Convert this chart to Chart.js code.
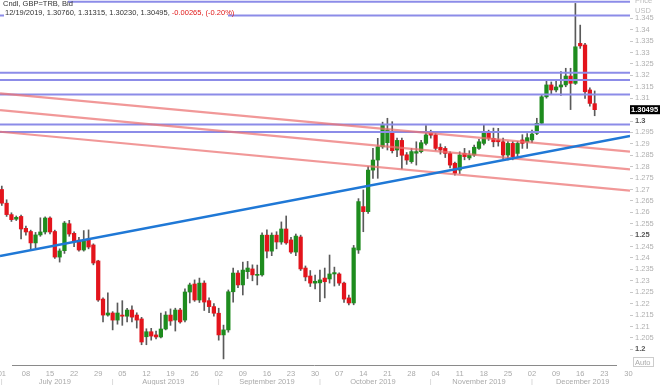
<!DOCTYPE html>
<html><head><meta charset="utf-8">
<script src="https://cdn.jsdelivr.net/npm/chart.js@4/dist/chart.umd.min.js"></script>
<style>html,body{margin:0;padding:0;background:#fff;overflow:hidden}canvas{display:block}</style>
</head><body>
<canvas id="c" width="660" height="385"></canvas>
<script>
// Daily GBP=TRB bid candles, trading-day index 0 = 01 Jul 2019 ... 123 = 19 Dec 2019
const OPEN = [1.2700,1.2640,1.2590,1.2570,1.2582,1.2530,1.2516,1.2466,1.2501,1.2514,
1.2575,1.2516,1.2404,1.2432,1.2550,1.2508,1.2478,1.2435,1.2483,1.2457,
1.2387,1.2220,1.2150,1.2159,1.2128,1.2150,1.2145,1.2172,1.2150,1.2133,
1.2055,1.2077,1.2063,1.2054,1.2089,1.2150,1.2128,1.2172,1.2128,1.2251,
1.2286,1.2216,1.2290,1.2213,1.2187,1.2158,1.2063,1.2085,1.2252,1.2334,
1.2282,1.2340,1.2352,1.2324,1.2326,1.2500,1.2430,1.2500,1.2470,1.2527,
1.2479,1.2426,1.2492,1.2356,1.2321,1.2290,1.2291,1.2312,1.2308,1.2330,
1.2330,1.2290,1.2225,1.2203,1.2435,1.2625,1.2603,1.2785,1.2829,1.2887,
1.2905,1.2950,1.2873,1.2915,1.2852,1.2822,1.2859,1.2866,1.2902,1.2948,
1.2939,1.2885,1.2880,1.2858,1.2815,1.2785,1.2858,1.2838,1.2851,1.2880,
1.2902,1.2946,1.2924,1.2917,1.2909,1.2851,1.2902,1.2858,1.2917,1.2909,
1.2917,1.2946,1.2990,1.3106,1.3158,1.3136,1.3149,1.3158,1.3197,1.3165,
1.3340,1.3333,1.3136,1.30760];
const HIGH = [1.2715,1.2655,1.2598,1.2584,1.2588,1.2540,1.2522,1.2512,1.2576,1.2580,
1.2580,1.2522,1.2440,1.2560,1.2565,1.2515,1.2490,1.2520,1.2523,1.2462,
1.2390,1.2225,1.2247,1.2165,1.2203,1.2213,1.2180,1.2190,1.2160,1.2140,
1.2090,1.2092,1.2080,1.2159,1.2165,1.2177,1.2180,1.2180,1.2265,1.2290,
1.2304,1.2312,1.2300,1.2225,1.2200,1.2180,1.2106,1.2260,1.2356,1.2345,
1.2382,1.2385,1.2370,1.2369,1.2510,1.2523,1.2510,1.2515,1.2558,1.2584,
1.2490,1.2505,1.2500,1.2365,1.2345,1.2325,1.2347,1.2356,1.2413,1.2360,
1.2335,1.2295,1.2238,1.2455,1.2660,1.2698,1.2800,1.2880,1.2924,1.2995,
1.3012,1.2997,1.2925,1.2925,1.2862,1.2880,1.2909,1.2915,1.2980,1.2960,
1.2945,1.2900,1.2888,1.2865,1.2820,1.2865,1.2880,1.2870,1.2895,1.2920,
1.2985,1.2960,1.2969,1.2968,1.2925,1.2910,1.2910,1.2910,1.2940,1.2945,
1.2960,1.3012,1.3115,1.3175,1.3171,1.3175,1.3217,1.3231,1.3231,1.3515,
1.3420,1.3340,1.3145,1.31315];
const LOW = [1.2630,1.2582,1.2560,1.2564,1.2483,1.2500,1.2440,1.2445,1.2495,1.2505,
1.2505,1.2398,1.2382,1.2420,1.2495,1.2450,1.2430,1.2430,1.2440,1.2370,
1.2210,1.2120,1.2145,1.2085,1.2110,1.2105,1.2120,1.2120,1.2093,1.2020,
1.2020,1.2040,1.2045,1.2050,1.2085,1.2105,1.2080,1.2115,1.2120,1.2203,
1.2210,1.2205,1.2170,1.2160,1.2145,1.2040,1.1958,1.2075,1.2207,1.2270,
1.2238,1.2310,1.2300,1.2282,1.2320,1.2400,1.2410,1.2440,1.2460,1.2460,
1.2420,1.2410,1.2345,1.2300,1.2275,1.2265,1.2209,1.2225,1.2290,1.2277,
1.2280,1.2205,1.2194,1.2195,1.2420,1.2515,1.2595,1.2749,1.2749,1.2880,
1.2873,1.2860,1.2844,1.2790,1.2810,1.2815,1.2807,1.2860,1.2895,1.2925,
1.2872,1.2855,1.2840,1.2795,1.2763,1.2770,1.2830,1.2830,1.2845,1.2875,
1.2895,1.2915,1.2887,1.2890,1.2835,1.2830,1.2830,1.2840,1.2880,1.2880,
1.2905,1.2940,1.2985,1.3100,1.3118,1.3127,1.3112,1.3150,1.3050,1.3160,
1.3318,1.3099,1.3065,1.30230];
const CLOSE = [1.2640,1.2590,1.2568,1.2578,1.2527,1.2514,1.2466,1.2501,1.2514,1.2575,
1.2514,1.2404,1.2431,1.2553,1.2505,1.2474,1.2435,1.2474,1.2448,1.2378,
1.2216,1.2150,1.2159,1.2128,1.2159,1.2145,1.2172,1.2141,1.2128,1.2032,
1.2077,1.2058,1.2054,1.2089,1.2150,1.2124,1.2172,1.2120,1.2251,1.2282,
1.2216,1.2290,1.2207,1.2187,1.2158,1.2063,1.2085,1.2252,1.2334,1.2282,
1.2347,1.2356,1.2326,1.2328,1.2500,1.2430,1.2500,1.2470,1.2527,1.2466,
1.2426,1.2496,1.2352,1.2317,1.2290,1.2298,1.2304,1.2296,1.2330,1.2336,
1.2290,1.2220,1.2203,1.2444,1.2647,1.2603,1.2785,1.2829,1.2887,1.2982,
1.2961,1.2870,1.2915,1.2850,1.2829,1.2866,1.2866,1.2905,1.2939,1.2938,
1.2880,1.2873,1.2858,1.2807,1.2771,1.2851,1.2844,1.2851,1.2885,1.2909,
1.2946,1.2924,1.2909,1.2909,1.2851,1.2902,1.2844,1.2902,1.2902,1.2927,
1.2943,1.2990,1.3106,1.3158,1.3136,1.3149,1.3158,1.3197,1.3165,1.3325,
1.3329,1.3128,1.3077,1.30495];

// Monday tick positions (trading-day index) and their labels
const TICK_IDX = [0,5,10,15,20,25,30,35,40,45,50,55,60,65,70,75,80,85,90,95,100,105,110,115,120,125,130];
const TICK_LABELS = ["01","08","15","22","29","05","12","19","26","02","09","16","23","30","07","14","21","28","04","11","18","25","02","09","16","23","30"];
const MONTHS = ["July 2019","August 2019","September 2019","October 2019","November 2019","December 2019"];
const MONTH_START = [0,23,45,66,89,110];
const MONTH_END = [22,44,65,88,109,131];
const Y_TICKS = [1.2,1.205,1.21,1.215,1.22,1.225,1.23,1.235,1.24,1.245,1.25,1.255,1.26,1.265,1.27,1.275,1.28,1.285,1.29,1.295,1.3,1.305,1.31,1.315,1.32,1.325,1.33,1.335,1.34,1.345];

// Drawn studies: horizontal levels, falling channel, rising trend line (price at left / right edge)
const H_LEVELS = [1.3522,1.3462,1.3211,1.3180,1.3116,1.2985,1.2952];
const CHANNEL_LEFT = [1.3121,1.3048,1.2953];
const CHANNEL_RIGHT = [1.2866,1.2788,1.2695];
const TREND = [1.2409,1.2934];

const X_MIN = -0.373, X_MAX = 130.33, Y_MIN = 1.19444, Y_MAX = 1.3530;
const FONT = '"Liberation Sans", Arial, sans-serif';
const UP = '#1e8c1e', DOWN = '#e3141c';

const idx = OPEN.map((_, i) => i);
const datasets = [];
datasets.push({type:'line', order:1, data:[{x:X_MIN,y:TREND[0]},{x:X_MAX,y:TREND[1]}],
  borderColor:'#1f78d6', borderWidth:2.5, pointRadius:0});
CHANNEL_LEFT.forEach((v, k) => datasets.push({type:'line', order:2,
  data:[{x:X_MIN,y:v},{x:X_MAX,y:CHANNEL_RIGHT[k]}], borderColor:'rgba(236,112,112,0.72)', borderWidth:2.2, pointRadius:0}));
H_LEVELS.forEach(v => datasets.push({type:'line', order:3,
  data:[{x:X_MIN,y:v},{x:X_MAX,y:v}], borderColor:'#8c8ce8', borderWidth:2, pointRadius:0}));
datasets.push({type:'bar', order:4, grouped:false, barThickness:3.6, minBarLength:1,
  data: idx.map(i => ({x:i, y:[OPEN[i], CLOSE[i]]})),
  backgroundColor: idx.map(i => CLOSE[i] >= OPEN[i] ? UP : DOWN), borderWidth:0});
datasets.push({type:'bar', order:5, grouped:false, barThickness:1,
  data: idx.map(i => ({x:i, y:[LOW[i], HIGH[i]]})),
  backgroundColor:'#5a5a5a', borderWidth:0});

const isMajor = c => !!(c && c.tick) && Math.abs(c.tick.value*20 - Math.round(c.tick.value*20)) < 1e-6;

const overlay = {
  id:'overlay',
  afterDraw(chart){
    const {ctx, scales:{x, y}, chartArea:a} = chart;
    ctx.save();
    // header
    ctx.fillStyle = '#fff';
    ctx.fillRect(0, 0, 68, 8);
    ctx.fillRect(4, 8, 224, 10);
    ctx.font = '7.5px ' + FONT; ctx.textBaseline = 'middle'; ctx.textAlign = 'left';
    ctx.fillStyle = '#333';
    ctx.fillText('Cndl, GBP=TRB, Bid', 3, 4);
    const t = '12/19/2019, 1.30760, 1.31315, 1.30230, 1.30495, ';
    ctx.fillText(t, 5, 13);
    ctx.fillStyle = '#e01818';
    ctx.fillText('-0.00265, (-0.20%)', 5 + ctx.measureText(t).width, 13);
    // axis caption
    ctx.fillStyle = '#bbb';
    ctx.fillText('Price', a.right + 5, 1);
    ctx.fillText('USD', a.right + 5, 10.5);
    // last price box
    const last = CLOSE[CLOSE.length - 1];
    const py = y.getPixelForValue(last);
    ctx.fillStyle = '#000';
    ctx.fillRect(a.right, py - 4.5, 30, 9);
    ctx.fillStyle = '#fff'; ctx.font = 'bold 7.5px ' + FONT;
    ctx.fillText(last.toFixed(5), a.right + 1, py + 0.5);
    // Auto box
    ctx.font = '7.5px ' + FONT;
    ctx.strokeStyle = '#ccc'; ctx.lineWidth = 1;
    ctx.strokeRect(a.right + 3.5, 357.5, 20, 9);
    ctx.fillStyle = '#aaa';
    ctx.fillText('Auto', a.right + 5, 362.5);
    // scroller line
    ctx.strokeStyle = '#8a8a8a'; ctx.lineWidth = 1;
    ctx.beginPath(); ctx.moveTo(a.left + 12, 365.5); ctx.lineTo(a.right - 13, 365.5); ctx.stroke();
    // month labels and separators
    ctx.textAlign = 'center';
    MONTHS.forEach((m, k) => {
      ctx.fillStyle = '#aaa';
      ctx.fillText(m, x.getPixelForValue((MONTH_START[k] + MONTH_END[k]) / 2), 381.5);
      ctx.fillStyle = '#c8c8c8';
      ctx.fillText('|', x.getPixelForValue(MONTH_START[k]), 381.5);
    });
    ctx.restore();
  }
};

new Chart(document.getElementById('c'), {
  type:'bar',
  data:{datasets},
  options:{
    responsive:false, animation:false, events:[],
    layout:{padding:0},
    plugins:{legend:{display:false}, tooltip:{enabled:false}},
    scales:{
      x:{type:'linear', position:'bottom', min:X_MIN, max:X_MAX, offset:false,
        grid:{drawOnChartArea:false, drawTicks:true, tickLength:7, color:'rgba(0,0,0,0)'},
        border:{display:false},
        afterBuildTicks: s => { s.ticks = TICK_IDX.map(v => ({value:v})); },
        afterFit: s => { s.height = 23; s.paddingLeft = 0; s.paddingRight = 0; },
        ticks:{autoSkip:false, maxRotation:0, minRotation:0, padding:0, color:'#aaa',
          font:{family:FONT, size:7.5},
          callback:(v, i) => TICK_LABELS[i]}},
      y:{type:'linear', position:'right', min:Y_MIN, max:Y_MAX,
        grid:{drawOnChartArea:false, drawTicks:true, tickLength:3, color:'#c8c8c8'},
        border:{display:false},
        afterBuildTicks: s => { s.ticks = Y_TICKS.map(v => ({value:v})); },
        afterFit: s => { s.width = 30; s.paddingTop = 0; s.paddingBottom = 0; },
        ticks:{padding:2, autoSkip:false,
          color: c => isMajor(c) ? '#555' : '#b0b0b0',
          font: c => ({family:FONT, size:7.5, weight: isMajor(c) ? 'bold' : 'normal'}),
          callback: v => String(Number(v.toFixed(3)))}}
    }
  },
  plugins:[overlay]
});
</script>
</body></html>
